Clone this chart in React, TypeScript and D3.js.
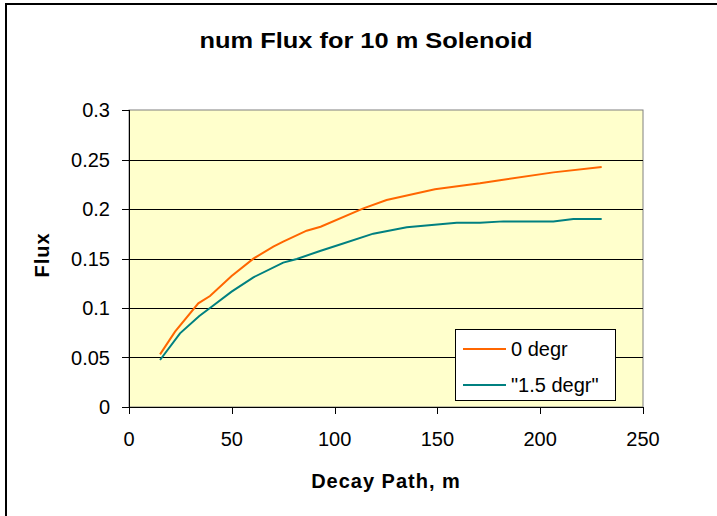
import React from "react";
import * as d3 from "d3";

const title = "num Flux for 10 m Solenoid";
const xTitle = "Decay Path, m";
const yTitle = "Flux";
const seriesNames = ["0 degr", "\"1.5 degr\""];
const seriesColors = ["#FF6600", "#008080"];

const x0 = [15.1, 22.4, 33.7, 39.4, 49.9, 60.5, 70.2, 75.0, 86.4, 93.2, 114, 125.3, 148.8, 170.7, 180.4, 206.4, 229.9];
const y0 = [0.0532, 0.0761, 0.1047, 0.1121, 0.1323, 0.1499, 0.162, 0.167, 0.1781, 0.1821, 0.2007, 0.2091, 0.22, 0.2259, 0.229, 0.237, 0.2425];

const x1 = [15.1, 24.8, 34.2, 40.2, 49.9, 60.5, 75.0, 81.6, 92.9, 103.4, 118.8, 135.1, 159.4, 170.7, 182.1, 206.4, 216.1, 229.9];
const y1 = [0.0475, 0.0744, 0.0919, 0.1013, 0.1165, 0.131, 0.1458, 0.1495, 0.1576, 0.1646, 0.1751, 0.1816, 0.186, 0.186, 0.1875, 0.1875, 0.1899, 0.1899];

const xTicks = [0, 50, 100, 150, 200, 250];
const yTicks = [0, 0.05, 0.1, 0.15, 0.2, 0.25, 0.3];

export default function App() {
  const W = 717, H = 516;
  const L = 129, R = 643, T = 110, B = 407;
  const x = d3.scaleLinear().domain([0, 250]).range([L, R]);
  const y = d3.scaleLinear().domain([0, 0.3]).range([B, T]);
  const line = d3.line<[number, number]>().x(d => x(d[0])).y(d => y(d[1]));
  const s0 = x0.map((v, i) => [v, y0[i]] as [number, number]);
  const s1 = x1.map((v, i) => [v, y1[i]] as [number, number]);
  const font = "Arial, 'Liberation Sans', sans-serif";
  return (
    <svg width={W} height={H} style={{ position: "absolute", left: 0, top: 0 }} fontFamily={font}>
      <rect x={0} y={0} width={W} height={H} fill="#fff" />
      <rect x={6} y={4} width={W + 20} height={H + 20} fill="none" stroke="#000" strokeWidth={2} />
      <text x={366} y={48} textAnchor="middle" fontWeight="bold" fontSize={22} textLength={333} lengthAdjust="spacingAndGlyphs">{title}</text>
      <rect x={L} y={T} width={R - L} height={B - T} fill="#FFFFCC" stroke="#808080" strokeWidth={1} />
      {yTicks.filter(t => t > 0 && t < 0.3).map(t => (
        <line key={t} x1={L} x2={R} y1={Math.round(y(t)) + 0.5} y2={Math.round(y(t)) + 0.5} stroke="#000" strokeWidth={1} />
      ))}
      <line x1={L + 0.5} x2={L + 0.5} y1={T} y2={B} stroke="#000" />
      <line x1={L} x2={R} y1={B + 0.5} y2={B + 0.5} stroke="#000" />
      {yTicks.map(t => (
        <g key={t}>
          <line x1={L - 7} x2={L} y1={Math.round(y(t)) + 0.5} y2={Math.round(y(t)) + 0.5} stroke="#000" />
          <text x={110} y={y(t) + 7} textAnchor="end" fontSize={20}>{String(t)}</text>
        </g>
      ))}
      {xTicks.map(t => (
        <g key={t}>
          <line x1={Math.round(x(t)) + 0.5} x2={Math.round(x(t)) + 0.5} y1={B} y2={B + 7} stroke="#000" />
          <text x={x(t)} y={446} textAnchor="middle" fontSize={20}>{String(t)}</text>
        </g>
      ))}
      <text x={386} y={488} textAnchor="middle" fontWeight="bold" fontSize={20} letterSpacing={1}>{xTitle}</text>
      <text transform="translate(49,255) rotate(-90)" textAnchor="middle" fontWeight="bold" fontSize={20} letterSpacing={1}>{yTitle}</text>
      <path d={line(s0) || ""} fill="none" stroke={seriesColors[0]} strokeWidth={2} />
      <path d={line(s1) || ""} fill="none" stroke={seriesColors[1]} strokeWidth={2} />
      <rect x={455.5} y={329.5} width={160} height={71} fill="#fff" stroke="#000" />
      {seriesNames.map((n, i) => (
        <g key={n}>
          <line x1={463} x2={506} y1={349 + i * 36} y2={349 + i * 36} stroke={seriesColors[i]} strokeWidth={2} />
          <text x={511} y={356 + i * 36} fontSize={20}>{n}</text>
        </g>
      ))}
    </svg>
  );
}
